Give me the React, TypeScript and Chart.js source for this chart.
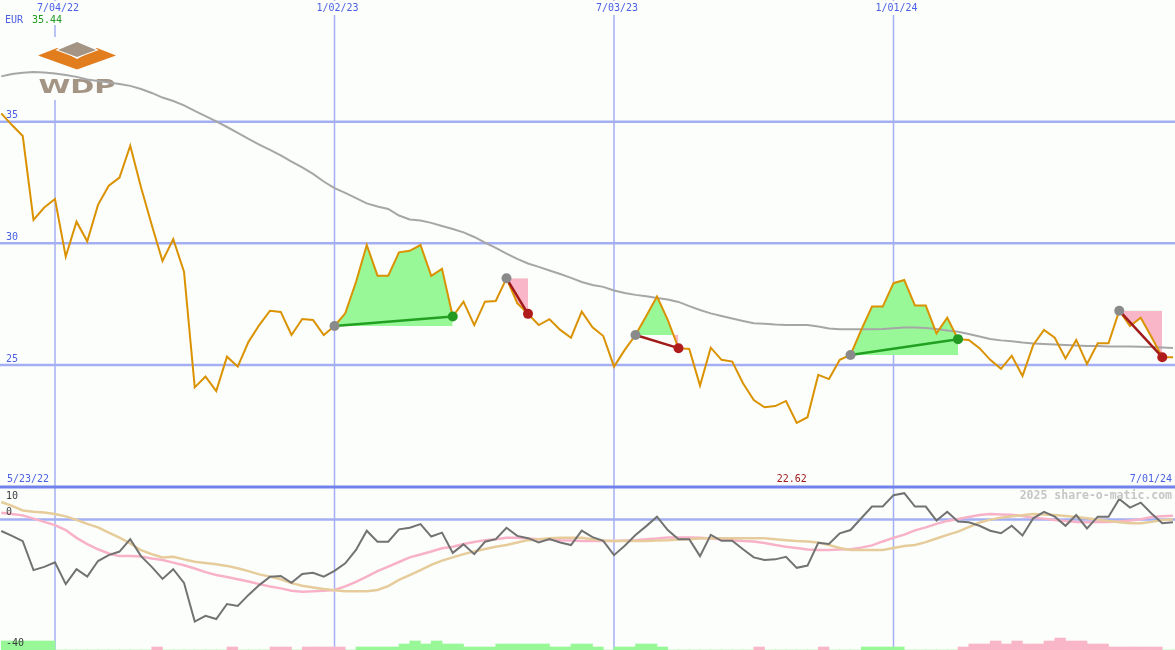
import { useEffect, useRef } from "react";
import { Chart, registerables } from "chart.js";

Chart.register(...registerables);

// ---------------- data ----------------
// weekly samples; week 0 = 7/04/22
const firstWeek = -5;

const closePrices: number[] = [
  35.34, 34.86, 34.41, 30.96, 31.47,
  31.82, 29.45, 30.89, 30.08, 31.58, 32.37, 32.70, 34.01, 32.30, 30.75,
  29.27, 30.17, 28.83, 24.08, 24.52, 23.93, 25.34, 24.93, 25.95, 26.64,
  27.23, 27.18, 26.23, 26.89, 26.85, 26.23, 26.60, 27.12, 28.41, 29.93,
  28.67, 28.67, 29.63, 29.69, 29.93, 28.66, 28.95, 26.99, 27.60, 26.64,
  27.60, 27.63, 28.56, 27.54, 27.10, 26.64, 26.88, 26.44, 26.12, 27.19,
  26.55, 26.19, 24.93, 25.62, 26.23, 27.01, 27.81, 26.85, 25.69, 25.66,
  24.15, 25.71, 25.21, 25.14, 24.25, 23.56, 23.26, 23.31, 23.52, 22.62,
  22.85, 24.59, 24.42, 25.21, 25.41, 26.44, 27.40, 27.40, 28.36, 28.49,
  27.44, 27.44, 26.30, 26.94, 26.06, 26.03, 25.69, 25.21, 24.84, 25.38,
  24.55, 25.82, 26.44, 26.12, 25.27, 26.03, 25.04, 25.89, 25.89, 27.23,
  26.60, 26.94, 26.15, 25.32, 25.32,
];

const movingAverage: number[] = [
  36.86, 36.96, 37.01, 37.04, 37.02,
  36.98, 36.92, 36.84, 36.73, 36.67, 36.61, 36.55, 36.47, 36.34, 36.18,
  35.99, 35.85, 35.67, 35.44, 35.23, 35.01, 34.78, 34.54, 34.29, 34.06,
  33.84, 33.61, 33.36, 33.12, 32.85, 32.54, 32.27, 32.07, 31.86, 31.64,
  31.51, 31.41, 31.14, 30.98, 30.94, 30.84, 30.71, 30.59, 30.45, 30.26,
  30.03, 29.81, 29.58, 29.36, 29.17, 29.03, 28.88, 28.74, 28.58, 28.41,
  28.29, 28.21, 28.06, 27.96, 27.88, 27.82, 27.75, 27.69, 27.59, 27.42,
  27.26, 27.12, 27.01, 26.91, 26.81, 26.71, 26.69, 26.66, 26.64, 26.64,
  26.64, 26.58, 26.50, 26.47, 26.47, 26.47, 26.47, 26.48, 26.51, 26.54,
  26.54, 26.52, 26.48, 26.42, 26.36, 26.27, 26.17, 26.07, 26.01, 25.97,
  25.92, 25.88, 25.86, 25.84, 25.82, 25.80, 25.78, 25.78, 25.76, 25.76,
  25.76, 25.75, 25.74, 25.72, 25.70,
];

const oscillator: number[] = [
  -3.5, -5.0, -6.6, -15.5, -14.5,
  -13.1, -19.8, -15.2, -17.5, -12.7, -10.9, -9.8, -6.0, -11.2, -14.5,
  -18.2, -15.2, -19.4, -31.3, -29.5, -30.5, -25.9, -26.5, -23.1, -20.1,
  -17.5, -17.3, -19.4, -16.7, -16.3, -17.5, -15.7, -13.4, -9.3, -3.4,
  -6.8, -6.8, -3.0, -2.5, -1.4, -5.2, -4.0, -10.2, -7.6, -10.6,
  -6.8, -6.0, -2.5, -5.0, -5.7, -7.0, -6.0, -7.0, -7.8, -3.4,
  -5.4, -6.5, -10.9, -8.0, -4.7, -2.0, 0.9, -3.2, -6.0, -6.0,
  -11.2, -4.7, -6.5, -6.5, -9.1, -11.6, -12.4, -12.2, -11.4, -14.8,
  -14.1, -7.1, -7.5, -4.2, -3.2, 0.4, 4.0, 4.0, 7.5, 8.1,
  4.0, 4.0, -0.3, 2.4, -0.6, -0.8, -1.9, -3.4, -4.2, -1.9,
  -4.9, 0.4, 2.4, 0.9, -1.9, 1.4, -2.7, 0.9, 0.9, 6.3,
  3.7, 5.2, 1.9, -1.1, -0.8,
];

const oscillatorFast: number[] = [
  2.1, 1.7, 1.3, 0.3, -0.7,
  -1.7, -3.2, -5.6, -7.5, -9.1, -10.4, -11.2, -11.2, -11.3, -11.9,
  -12.4, -13.2, -14.0, -15.0, -16.1, -17.0, -17.6, -18.3, -19.0, -19.8,
  -20.5, -21.1, -21.8, -22.1, -22.0, -21.8, -21.6, -20.5, -19.1, -17.5,
  -15.8, -14.4, -13.0, -11.6, -10.7, -9.8, -8.8, -8.3, -7.5, -6.9,
  -6.3, -6.0, -5.6, -5.6, -5.8, -6.0, -6.1, -6.3, -6.4, -6.6,
  -6.6, -6.6, -6.6, -6.4, -6.3, -6.0, -5.8, -5.5, -5.5, -5.5,
  -5.6, -5.8, -6.0, -6.3, -6.6, -6.7, -7.2, -7.8, -8.3, -8.7,
  -9.2, -9.3, -9.3, -9.2, -9.1, -8.6, -7.9, -6.7, -5.6, -4.6,
  -3.3, -2.4, -1.3, -0.4, 0.2, 0.8, 1.4, 1.7, 1.6, 1.5,
  1.1, 0.6, 0.3, -0.1, -0.4, -0.7, -0.8, -0.7, -0.7, -0.6,
  -0.3, 0.1, 0.8, 1.0, 1.2,
];

const oscillatorSlow: number[] = [
  5.4, 4.2, 2.8, 2.4, 2.2,
  1.7, 1.0, -0.1, -1.3, -2.4, -4.0, -5.5, -7.3, -9.4, -10.6,
  -11.6, -11.4, -12.2, -12.9, -13.3, -13.7, -14.2, -14.9, -15.8, -16.8,
  -17.5, -18.3, -19.5, -20.3, -20.8, -21.3, -21.7, -22.0, -22.0, -22.0,
  -21.6, -20.4, -18.5, -17.0, -15.5, -13.9, -12.6, -11.6, -10.6, -9.8,
  -9.0, -8.3, -7.8, -7.0, -6.3, -6.0, -5.7, -5.6, -5.6, -5.6,
  -6.0, -6.4, -6.6, -6.6, -6.6, -6.6, -6.4, -6.3, -6.1, -6.0,
  -5.8, -5.7, -5.7, -5.7, -5.7, -5.7, -5.7, -6.0, -6.3, -6.6,
  -6.7, -7.0, -7.8, -8.7, -9.3, -9.3, -9.3, -9.3, -8.7, -8.1,
  -7.8, -6.9, -5.8, -4.7, -3.7, -2.3, -0.9, 0.0, 0.6, 1.0,
  1.3, 1.7, 1.6, 1.4, 1.1, 0.8, 0.4, 0.0, -0.4, -0.8,
  -1.1, -1.1, -0.7, -0.1, 0.0,
];

// signed weekly histogram (positive = green, negative = pink)
const histogram: number[] = [
  3, 3, 3, 3, 3,
  0, 0, 0, 0, 0, 0, 0, 0, 0, -1,
  0, 0, 0, 0, 0, 0, -1, 0, 0, 0,
  -1, -1, 0, -1, -1, -1, -1, 0, 1, 1,
  1, 1, 2, 3, 2, 3, 2, 2, 1, 1,
  1, 2, 2, 2, 2, 2, 1, 1, 2, 2,
  1, 0, 1, 1, 2, 2, 1, 0, 0, 0,
  0, 0, 0, 0, 0, -1, 0, 0, 0, 0,
  0, -1, 0, 0, 0, 1, 1, 1, 1, 0,
  0, 0, 0, 0, -1, -2, -2, -3, -2, -3,
  -2, -2, -3, -4, -3, -3, -2, -2, -1, -1,
  -1, -1, -1, 0, 0,
];

// trade signals (week numbers)
const signalStartWeeks: number[] = [26, 42, 54, 74, 99];
const signalEndWeeks: number[] = [37, 44, 58, 84, 103];

const dateTickWeeks: number[] = [0, 26, 52, 78];
const dateTickLabels: string[] = ["7/04/22", "1/02/23", "7/03/23", "1/01/24"];
const priceTicks: number[] = [25, 30, 35];
const oscTicks: number[] = [10, 0, -40];

const currencyLabel = "EUR";
const headlinePrice = "35.44";
const lowPriceLabel = "22.62";
const periodStartLabel = "5/23/22";
const periodEndLabel = "7/01/24";
const watermark = "2025 share-o-matic.com";
const logoText = "WDP";

// ---------------- styles ----------------
const BG = "#fcfefc";
const GRID = "#a3aff2";
const GRID_DARK = "#7182ea";
const BLUE_TEXT = "#4c60e4";
const FONT = '10px "DejaVu Sans Mono", monospace';
const PX_PER_WEEK = 10.75;
const X_MIN = -55 / PX_PER_WEEK;
const X_MAX = X_MIN + 1175 / PX_PER_WEEK;

function textWithBg(ctx: CanvasRenderingContext2D, txt: string, x: number, y: number, color: string) {
  const w = ctx.measureText(txt).width;
  ctx.fillStyle = BG;
  ctx.fillRect(x - w / 2 - 2, y - 7, w + 4, 14);
  ctx.fillStyle = color;
  ctx.textAlign = "center";
  ctx.fillText(txt, x, y);
}

function drawLogo(ctx: CanvasRenderingContext2D) {
  ctx.fillStyle = BG;
  ctx.fillRect(36, 37, 82, 63);
  ctx.fillStyle = "#e27d1e";
  ctx.beginPath();
  ctx.moveTo(38, 55.5);
  ctx.lineTo(57, 48);
  ctx.lineTo(77, 59);
  ctx.lineTo(97, 48);
  ctx.lineTo(116, 55.5);
  ctx.lineTo(77, 69.5);
  ctx.closePath();
  ctx.fill();
  ctx.beginPath();
  ctx.moveTo(77, 42);
  ctx.lineTo(96, 50);
  ctx.lineTo(77, 57);
  ctx.lineTo(58, 50);
  ctx.closePath();
  ctx.strokeStyle = BG;
  ctx.lineWidth = 2;
  ctx.stroke();
  ctx.fillStyle = "#a39484";
  ctx.fill();
  ctx.font = 'bold 20px "DejaVu Sans", sans-serif';
  const w = ctx.measureText(logoText).width;
  ctx.save();
  ctx.translate(38.5, 93.3);
  ctx.scale(77 / w, 1);
  ctx.textAlign = "left";
  ctx.textBaseline = "alphabetic";
  ctx.fillText(logoText, 0, 0);
  ctx.restore();
}

const decor = {
  id: "decor",
  beforeDraw(chart: any) {
    const { ctx, width, height } = chart;
    ctx.save();
    ctx.fillStyle = BG;
    ctx.fillRect(0, 0, width, height);
    ctx.restore();
  },
  beforeDatasetsDraw(chart: any) {
    const { ctx, width, height } = chart;
    const sx = chart.scales.x;
    const sy = chart.scales.y;
    const so = chart.scales.yOsc;
    ctx.save();
    const hline = (py: number, color: string, lw: number) => {
      ctx.strokeStyle = color;
      ctx.lineWidth = lw;
      ctx.beginPath();
      ctx.moveTo(0, py);
      ctx.lineTo(width, py);
      ctx.stroke();
    };
    dateTickWeeks.forEach((w) => {
      const px = sx.getPixelForValue(w);
      ctx.strokeStyle = GRID;
      ctx.lineWidth = 1.5;
      ctx.beginPath();
      ctx.moveTo(px, 0);
      ctx.lineTo(px, height);
      ctx.stroke();
    });
    priceTicks.forEach((v) => hline(sy.getPixelForValue(v), GRID, 2.5));
    hline(so.getPixelForValue(0), GRID, 2.5);
    hline(so.getPixelForValue(oscTicks[0]), GRID_DARK, 3);

    ctx.font = FONT;
    ctx.textBaseline = "middle";
    // header row
    ctx.fillStyle = BG;
    ctx.fillRect(3, 14, 62, 11);
    ctx.textAlign = "left";
    ctx.fillStyle = BLUE_TEXT;
    ctx.fillText(currencyLabel, 5, 20);
    ctx.fillStyle = "#1f9a1f";
    ctx.fillText(headlinePrice, 32, 20);
    // date labels
    dateTickWeeks.forEach((w, i) => {
      textWithBg(ctx, dateTickLabels[i], sx.getPixelForValue(w) + 3, 8, BLUE_TEXT);
    });
    // price labels
    ctx.textAlign = "left";
    ctx.fillStyle = BLUE_TEXT;
    priceTicks.forEach((v) => ctx.fillText(String(v), 6, sy.getPixelForValue(v) - 6));
    drawLogo(ctx);
    ctx.restore();
  },
  afterDatasetsDraw(chart: any) {
    const { ctx, width } = chart;
    const sx = chart.scales.x;
    const so = chart.scales.yOsc;
    ctx.save();
    ctx.font = FONT;
    ctx.textBaseline = "middle";
    ctx.textAlign = "left";
    ctx.fillStyle = "#3c3c3c";
    oscTicks.forEach((v, i) => {
      const py = so.getPixelForValue(v);
      ctx.fillText(String(v), 6, i === 0 ? py + 9 : py - 7);
    });
    const rowY = so.getPixelForValue(oscTicks[0]) - 8;
    ctx.fillStyle = BLUE_TEXT;
    ctx.fillText(periodStartLabel, 7, rowY);
    ctx.textAlign = "right";
    ctx.fillText(periodEndLabel, width - 3, rowY);
    let lowIdx = 0;
    closePrices.forEach((p, i) => {
      if (p < closePrices[lowIdx]) lowIdx = i;
    });
    ctx.textAlign = "center";
    ctx.fillStyle = "#a01c1c";
    ctx.fillText(lowPriceLabel, sx.getPixelForValue(lowIdx + firstWeek) - 5, rowY);
    ctx.font = 'bold 11.5px "DejaVu Sans Mono", monospace';
    ctx.textAlign = "right";
    ctx.fillStyle = "#c6c6c6";
    ctx.fillText(watermark, width - 3, so.getPixelForValue(oscTicks[0]) + 9);
    ctx.restore();
  },
};

export default function App() {
  const ref = useRef<HTMLCanvasElement>(null);

  useEffect(() => {
    const canvas = ref.current;
    if (!canvas) return;
    const weeks = closePrices.map((_, i) => i + firstWeek);
    const series = (arr: number[]) => arr.map((v, i) => ({ x: weeks[i], y: v }));

    const datasets: any[] = [];
    signalStartWeeks.forEach((s, j) => {
      const e = signalEndWeeks[j];
      const si = s - firstWeek;
      const ei = e - firstWeek;
      const base = closePrices[si];
      const up = closePrices[ei] >= base;
      datasets.push({
        type: "line",
        data: [
          { x: s, y: base },
          { x: e, y: closePrices[ei] },
        ],
        yAxisID: "y",
        borderColor: up ? "#22a022" : "#a01a1a",
        borderWidth: 2.5,
        pointRadius: 5,
        pointBorderWidth: 0,
        pointBackgroundColor: ["#8a8a8a", up ? "#229a22" : "#b01c1c"],
        fill: false,
        order: 0,
      });
      datasets.push({
        type: "line",
        data: closePrices.slice(si, ei + 1).map((v, n) => ({ x: s + n, y: v })),
        yAxisID: "y",
        borderWidth: 0,
        borderColor: "rgba(0,0,0,0)",
        pointRadius: 0,
        backgroundColor: "#98f898",
        fill: { target: { value: base }, above: "#98f898", below: "#f9b6c9" },
        order: 3,
      });
    });
    datasets.push({
      type: "line",
      data: series(closePrices),
      yAxisID: "y",
      borderColor: "#da9200",
      borderWidth: 2,
      pointRadius: 0,
      fill: false,
      order: 1,
    });
    datasets.push({
      type: "line",
      data: series(movingAverage),
      yAxisID: "y",
      borderColor: "#a6a6a6",
      borderWidth: 2,
      pointRadius: 0,
      fill: false,
      order: 2,
    });
    datasets.push({
      type: "line",
      data: series(oscillator),
      yAxisID: "yOsc",
      borderColor: "#727272",
      borderWidth: 2,
      pointRadius: 0,
      fill: false,
      order: 4,
    });
    datasets.push({
      type: "line",
      data: series(oscillatorSlow),
      yAxisID: "yOsc",
      borderColor: "#e6cc9a",
      borderWidth: 2.5,
      pointRadius: 0,
      fill: false,
      order: 5,
    });
    datasets.push({
      type: "line",
      data: series(oscillatorFast),
      yAxisID: "yOsc",
      borderColor: "#f8b2c8",
      borderWidth: 2.5,
      pointRadius: 0,
      fill: false,
      order: 6,
    });
    datasets.push({
      type: "bar",
      data: histogram.map((v, i) => ({ x: weeks[i] + 0.5, y: Math.abs(v) })),
      yAxisID: "yHist",
      backgroundColor: histogram.map((v) => (v >= 0 ? "#98f898" : "#f9b6c9")),
      borderWidth: 0,
      barPercentage: 1,
      categoryPercentage: 1,
      order: 7,
    });

    const chart = new Chart(canvas, {
      type: "line",
      data: { datasets },
      options: {
        responsive: false,
        animation: false,
        events: [],
        layout: { padding: 0, autoPadding: false },
        plugins: { legend: { display: false }, tooltip: { enabled: false } },
        elements: { line: { tension: 0 } },
        scales: {
          x: { type: "linear", min: X_MIN, max: X_MAX, display: false, offset: false },
          y: { type: "linear", min: 40 - 650 / 24.33, max: 40, display: false },
          yOsc: { type: "linear", min: -40, max: -40 + 650 / 3.26, display: false },
          yHist: { type: "linear", min: 0, max: 650 / 3, display: false },
        },
      } as any,
      plugins: [decor as any],
    });
    return () => chart.destroy();
  }, []);

  return (
    <div style={{ position: "absolute", left: 0, top: 0, width: 1175, height: 650 }}>
      <canvas ref={ref} width={1175} height={650} style={{ display: "block", width: 1175, height: 650 }} />
    </div>
  );
}
